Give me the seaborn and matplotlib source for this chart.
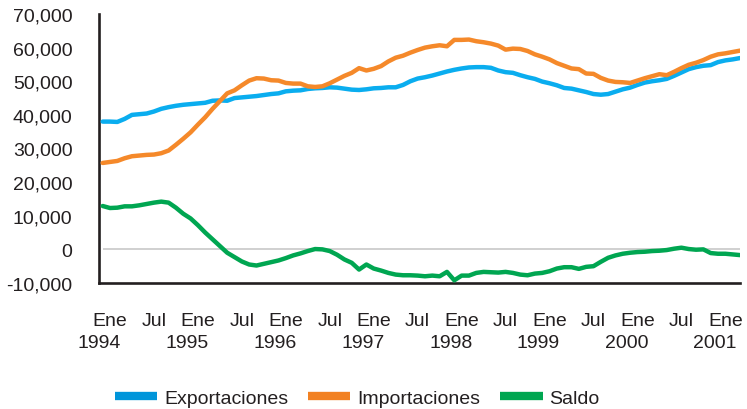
import numpy as np
import pandas as pd
import matplotlib
matplotlib.use("Agg")
import matplotlib.pyplot as plt
import matplotlib.transforms as mtransforms
from matplotlib.lines import Line2D
from matplotlib.ticker import FuncFormatter
import seaborn as sns

# monthly series, Jan 1994 - Apr 2001 (millions)
exportaciones = [
    38000, 38000, 37900, 38800, 40000, 40200, 40400, 41000, 41800, 42300, 42700, 43000,
    43200, 43400, 43600, 44200, 44300, 44200, 45000, 45200, 45400, 45600, 45900, 46200,
    46400, 47000, 47200, 47300, 47700, 47900, 48000, 48200, 48100, 47800, 47500, 47400,
    47600, 47900, 48000, 48200, 48200, 48900, 50000, 50800, 51200, 51700, 52300, 52900,
    53400, 53800, 54100, 54200, 54200, 54000, 53200, 52700, 52500, 51800, 51200, 50700,
    49900, 49400, 48800, 48000, 47800, 47300, 46800, 46200, 46000, 46200, 46900, 47600,
    48100, 48900, 49600, 50000, 50300, 50700, 51600, 52600, 53600, 54200, 54600, 54800,
    55700, 56200, 56500, 56900,
]
importaciones = [
    25700, 26000, 26300, 27100, 27700, 27900, 28100, 28200, 28600, 29400, 31100, 32900,
    34800, 37100, 39300, 41800, 44100, 46400, 47300, 48800, 50200, 50900, 50800, 50300,
    50200, 49500, 49300, 49300, 48500, 48300, 48500, 49400, 50500, 51600, 52500, 53900,
    53200, 53700, 54500, 55900, 57000, 57600, 58500, 59300, 60000, 60400, 60700, 60400,
    62300, 62300, 62400, 61900, 61600, 61200, 60600, 59400, 59700, 59600, 59000, 58000,
    57300, 56500, 55400, 54600, 53800, 53600, 52300, 52200, 51000, 50200, 49800, 49700,
    49500, 50200, 50900, 51500, 52100, 51800, 52800, 53900, 54900, 55500, 56300, 57300,
    58000, 58300, 58700, 59100,
]
saldo = [
    12900, 12300, 12400, 12800, 12800, 13100, 13500, 13900, 14200, 13900, 12400, 10600,
    9200, 7200, 5000, 3000, 1000, -1000, -2300, -3600, -4500, -4800, -4300, -3800,
    -3300, -2600, -1800, -1200, -500, 100, 0, -500, -1600, -3000, -4000, -6000,
    -4500, -5700, -6300, -7000, -7500, -7700, -7700, -7800, -8000, -7800, -8000, -6700,
    -9200, -7800, -7800, -7000, -6700, -6800, -6900, -6700, -7000, -7500, -7700, -7200,
    -7000, -6500, -5700, -5300, -5300, -5800, -5200, -5000, -3700, -2500, -1800, -1300,
    -1000, -800, -700, -500, -400, -200, 200, 500, 100, -100, 0, -1100,
    -1300, -1300, -1500, -1700,
]
series_names = ["Exportaciones", "Importaciones", "Saldo"]
line_colors = ["#0AADEF", "#F5892A", "#00A651"]
legend_colors = ["#0095DA", "#F28122", "#00A651"]
years = [1994, 1995, 1996, 1997, 1998, 1999, 2000, 2001]
month_labels = ["Ene", "Jul"] * 7 + ["Ene"]

month = np.arange(len(exportaciones)) + 0.5
df = pd.DataFrame({"mes": month, "Exportaciones": exportaciones,
                   "Importaciones": importaciones, "Saldo": saldo})
long = df.melt(id_vars="mes", var_name="serie", value_name="valor")

sns.set_theme(style="white")
plt.rcParams["font.family"] = ["Liberation Sans", "DejaVu Sans"]
ink = "#231F20"

fig = plt.figure(figsize=(7.47, 4.10), dpi=100)
ax = fig.add_axes([99 / 747, 1 - 284 / 410, (740 - 99) / 747, (284 - 15) / 410])

ax.hlines(0, month[0], month[-1], color="#C4C4C4", lw=1.1, zorder=1)
sns.lineplot(data=long, x="mes", y="valor", hue="serie", hue_order=series_names,
             palette=line_colors, linewidth=3.2, legend=False, ax=ax, zorder=3)

ax.set_xlim(0, 87.5)
ax.set_ylim(-10000, 70000)
ax.set_yticks(np.arange(-10000, 70001, 10000))
ax.yaxis.set_major_formatter(FuncFormatter(lambda v, p: f"{v:,.0f}"))

# month names on major ticks, years on unmarked minor ticks
ax.xaxis.remove_overlapping_locs = False
ax.set_xticks(np.arange(0, 85, 6))
ax.set_xticklabels(month_labels)
ax.set_xticks(np.arange(0, 85, 12), minor=True)
ax.set_xticklabels([str(y) for y in years], minor=True)
ax.set_xlabel("")
ax.set_ylabel("")

for s in ["top", "right"]:
    ax.spines[s].set_visible(False)
for s in ["left", "bottom"]:
    ax.spines[s].set_color(ink)
    ax.spines[s].set_linewidth(1.9)
ax.tick_params(axis="both", direction="out", length=10, width=1.9, color=ink,
               labelsize=14, labelcolor=ink)
ax.tick_params(axis="y", pad=9)
ax.tick_params(axis="x", which="major", pad=11)
ax.tick_params(axis="x", which="minor", length=0, pad=37, labelsize=14, labelcolor=ink)

# month names sit a little right of their ticks in the original
nudge = mtransforms.ScaledTranslation(11 / 100, 0, fig.dpi_scale_trans)
for tick in ax.xaxis.get_major_ticks():
    tick.label1.set_transform(tick.label1.get_transform() + nudge)

handles = [Line2D([0], [0], color=c, lw=6, solid_capstyle="butt") for c in legend_colors]
fig.legend(handles, series_names, loc="center", bbox_to_anchor=(0.478, 0.026),
           ncol=3, frameon=False, fontsize=14, handlelength=2.2, handletextpad=0.35,
           columnspacing=1.0, labelcolor=ink)

fig.savefig("out.png", dpi=100)
